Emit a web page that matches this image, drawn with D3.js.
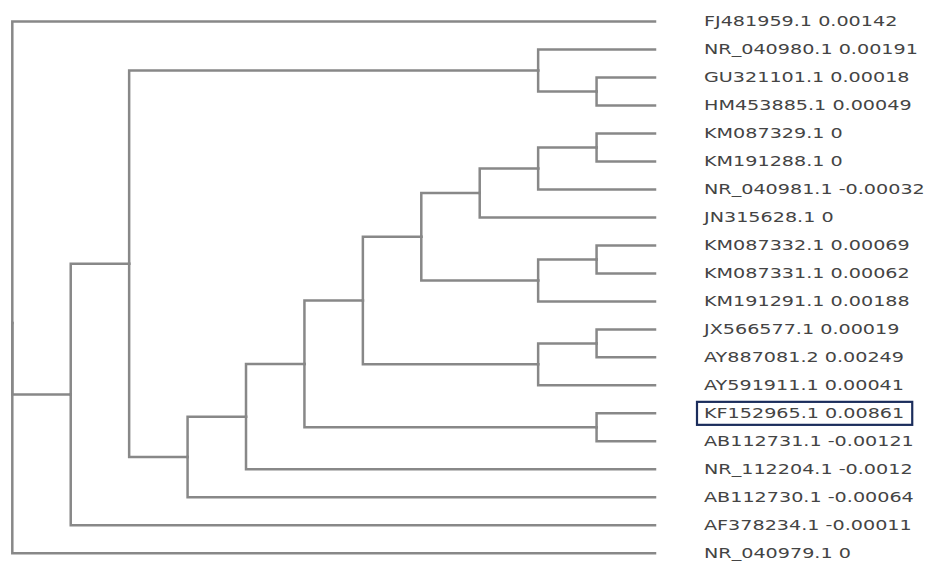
<!DOCTYPE html>
<html>
<head>
<meta charset="utf-8">
<script src="https://cdn.jsdelivr.net/npm/d3@7"></script>
<style>
  body { margin: 0; background: #fff; }
  svg { display: block; }
</style>
</head>
<body>
<div id="chart-area"></div>
<script>
// leaf labels and values, top to bottom
var names = ["FJ481959.1", "NR_040980.1", "GU321101.1", "HM453885.1", "KM087329.1",
    "KM191288.1", "NR_040981.1", "JN315628.1", "KM087332.1", "KM087331.1",
    "KM191291.1", "JX566577.1", "AY887081.2", "AY591911.1", "KF152965.1",
    "AB112731.1", "NR_112204.1", "AB112730.1", "AF378234.1", "NR_040979.1"];
var values = [0.00142, 0.00191, 0.00018, 0.00049, 0, 0, -0.00032, 0, 0.00069, 0.00062,
    0.00188, 0.00019, 0.00249, 0.00041, 0.00861, -0.00121, -0.0012, -0.00064, -0.00011, 0];
// tree topology, nested by leaf index
var topology = [0, [[[1, [2, 3]], [[[[[[[[4, 5], 6], 7], [[8, 9], 10]], [[11, 12], 13]], [14, 15]], 16], 17]], 18], 19];
var highlight = "KF152965.1";

var margin = { left: 12.3, right: 655, top: 21.5, bottom: 553.3 };
var treeWidth = margin.right - margin.left;
var n = names.length;
// d3.cluster keeps half a row of padding at each end
var rowStep = (margin.bottom - margin.top) / (n - 1);
var treeHeight = rowStep * n;
var textScale = 1.42;

var svg = d3.select("#chart-area").append("svg")
    .attr("width", 930)
    .attr("height", 563);

var g = svg.append("g")
    .attr("transform", `translate(${margin.left}, ${margin.top - rowStep / 2})`);

var root = d3.hierarchy(topology, d => Array.isArray(d) ? d : null);

var cluster = d3.cluster()
    .size([treeHeight, treeWidth])
    .separation(() => 1);
cluster(root);

g.selectAll("path.link")
    .data(root.links())
    .enter().append("path")
    .attr("class", "link")
    .attr("d", d => `M${d.source.y},${d.source.x}V${d.target.x}H${d.target.y}`)
    .attr("fill", "none")
    .attr("stroke", "#888")
    .attr("stroke-width", 2.5)
    .attr("stroke-linecap", "square");

var leaves = g.selectAll("g.leaf")
    .data(root.leaves())
    .enter().append("g")
    .attr("class", "leaf")
    .attr("transform", d => `translate(${treeWidth + 49}, ${d.x})`);

leaves.append("text")
    .attr("transform", `scale(${textScale}, 1)`)
    .attr("dy", "0.36em")
    .attr("font-family", "'DejaVu Sans', Verdana, sans-serif")
    .attr("font-size", 13.5)
    .attr("fill", "#444")
    .text(d => names[d.data] + " " + values[d.data]);

leaves.filter(d => names[d.data] === highlight)
    .each(function () {
        var t = d3.select(this).select("text").node().getBBox();
        d3.select(this).insert("rect", "text")
            .attr("x", t.x * textScale - 7)
            .attr("y", -11.5)
            .attr("width", t.width * textScale + 15)
            .attr("height", 23)
            .attr("fill", "none")
            .attr("stroke", "#1b2d5c")
            .attr("stroke-width", 2.2);
    });
</script>
</body>
</html>
